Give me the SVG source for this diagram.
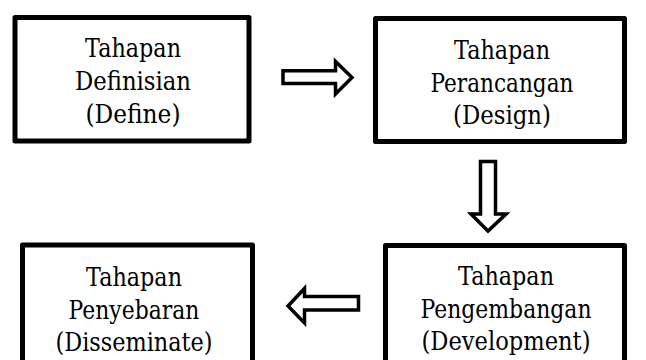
<svg xmlns="http://www.w3.org/2000/svg" width="646" height="360" viewBox="0 0 646 360">
<style>
.box{fill:#fff;stroke:#000;stroke-width:5;stroke-linejoin:round}
.arr{fill:#fff;stroke:#000;stroke-width:3.5;stroke-linejoin:miter}
text{font-family:'DejaVu Serif','Liberation Serif','Times New Roman',serif;font-size:26px;fill:#000;text-anchor:middle}
</style>
<rect width="646" height="360" fill="#fff"/>
<g id="define">
<rect class="box" x="15" y="17.5" width="234" height="123.5"/>
<text x="133" y="57" textLength="96" lengthAdjust="spacingAndGlyphs">Tahapan</text>
<text x="133" y="90" textLength="116" lengthAdjust="spacingAndGlyphs">Definisian</text>
<text x="133" y="123" textLength="95" lengthAdjust="spacingAndGlyphs">(Define)</text>
</g>
<g id="design">
<rect class="box" x="375.5" y="18.5" width="249" height="123"/>
<text x="502" y="59" textLength="96" lengthAdjust="spacingAndGlyphs">Tahapan</text>
<text x="502" y="92" textLength="143" lengthAdjust="spacingAndGlyphs">Perancangan</text>
<text x="502" y="124" textLength="98" lengthAdjust="spacingAndGlyphs">(Design)</text>
</g>
<g id="develop">
<rect class="box" x="385.5" y="245.5" width="239" height="140"/>
<text x="506" y="285" textLength="96" lengthAdjust="spacingAndGlyphs">Tahapan</text>
<text x="506" y="318" textLength="171" lengthAdjust="spacingAndGlyphs">Pengembangan</text>
<text x="506" y="350" textLength="169" lengthAdjust="spacingAndGlyphs">(Development)</text>
</g>
<g id="disseminate">
<rect class="box" x="22.5" y="245" width="230" height="140"/>
<text x="134" y="286" textLength="96" lengthAdjust="spacingAndGlyphs">Tahapan</text>
<text x="134" y="319" textLength="131" lengthAdjust="spacingAndGlyphs">Penyebaran</text>
<text x="134" y="351" textLength="157" lengthAdjust="spacingAndGlyphs">(Disseminate)</text>
</g>
<g id="connectors">
<polygon class="arr" points="283,70.8 335.5,70.8 335.5,61.5 352,77.5 335.5,94 335.5,83.5 283,83.5"/>
<polygon class="arr" points="480.5,161.5 495.5,161.5 495.5,214 506,214 488,231 471,214 480.5,214"/>
<polygon class="arr" points="358.5,296.5 304.5,296.5 304.5,288.5 288,306 304.5,323 304.5,310 358.5,310"/>
</g>
</svg>
